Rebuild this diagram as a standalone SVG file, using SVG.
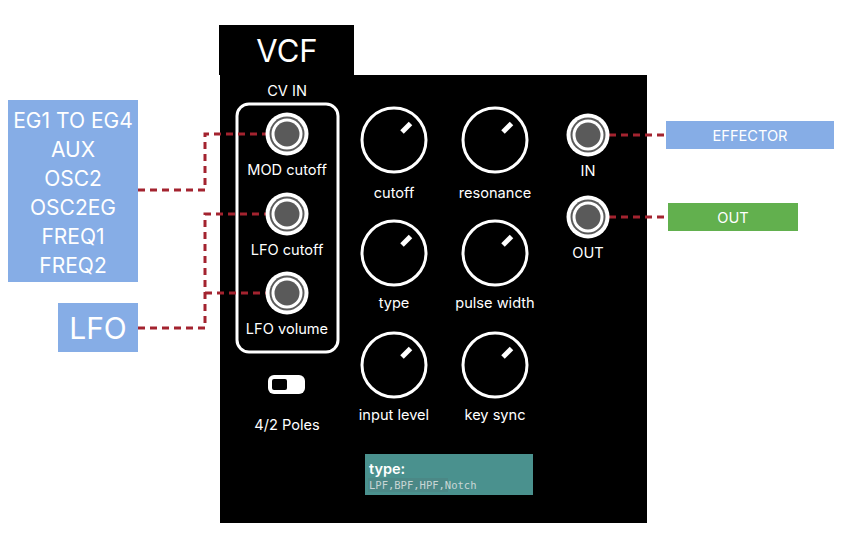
<svg xmlns="http://www.w3.org/2000/svg" width="852" height="537" viewBox="0 0 852 537">
<defs>
<style>
.t{font-family:"Inter","Liberation Sans",sans-serif;fill:#fff;text-anchor:middle}
.lbl{font-size:14.6px}
.knob{fill:none;stroke:#fff;stroke-width:3}
.ind{stroke:#fff;stroke-width:5}
.conn{fill:none;stroke:#a3232f;stroke-width:3;stroke-dasharray:7 5}
.jo{fill:#fff}.jg{fill:#5a5a5a}
</style>
<g id="jack">
<circle r="21.5" class="jo"/><circle r="17.5" class="jg"/><circle r="15.5" class="jo"/><circle r="12.5" class="jg"/>
</g>
<g id="knobshape">
<circle r="32" class="knob"/>
<line x1="8" y1="-8" x2="16.5" y2="-16.5" class="ind"/>
</g>
</defs>
<rect width="852" height="537" fill="#fff"/>
<g id="vcf-panel">
<rect x="219" y="25" width="135" height="50" fill="#000"/>
<text x="287" y="62" class="t" font-size="31">VCF</text>
<rect x="220" y="75" width="427" height="448" fill="#000"/>
<text x="287" y="96" class="t lbl">CV IN</text>
<rect x="237" y="104" width="101" height="248" rx="12" fill="none" stroke="#fff" stroke-width="3"/>
</g>
<g id="connectors">
<polyline class="conn" points="138,190 205,190 205,134 266,134"/>
<polyline class="conn" points="138,328 205,328 205,214 266,214"/>
<polyline class="conn" points="205,293 266,293"/>
<polyline class="conn" points="609,135 666,135"/>
<polyline class="conn" points="609,217 668,217"/>
</g>
<g id="src-eg">
<rect x="8" y="100" width="130" height="182" fill="#86ade6"/>
<text class="t" font-size="21"><tspan x="73" y="128">EG1 TO EG4</tspan><tspan x="73" y="157">AUX</tspan><tspan x="73" y="186">OSC2</tspan><tspan x="73" y="215">OSC2EG</tspan><tspan x="73" y="244">FREQ1</tspan><tspan x="73" y="273">FREQ2</tspan></text>
</g>
<g id="src-lfo">
<rect x="58" y="303" width="80" height="49" fill="#86ade6"/>
<text x="98" y="339" class="t" font-size="30">LFO</text>
</g>
<g id="jack-mod"><use href="#jack" x="287" y="134"/><text x="287" y="175" class="t lbl">MOD cutoff</text></g>
<g id="jack-lfocut"><use href="#jack" x="287" y="214"/><text x="287" y="255" class="t lbl">LFO cutoff</text></g>
<g id="jack-lfovol"><use href="#jack" x="287" y="293"/><text x="287" y="334" class="t lbl">LFO volume</text></g>
<g id="knob-cutoff"><use href="#knobshape" x="394" y="140"/><text x="394" y="198" class="t lbl">cutoff</text></g>
<g id="knob-resonance"><use href="#knobshape" x="495" y="140"/><text x="495" y="198" class="t lbl">resonance</text></g>
<g id="knob-type"><use href="#knobshape" x="394" y="253"/><text x="394" y="308" class="t lbl">type</text></g>
<g id="knob-pw"><use href="#knobshape" x="495" y="253"/><text x="495" y="308" class="t lbl">pulse width</text></g>
<g id="knob-input"><use href="#knobshape" x="394" y="365"/><text x="394" y="420" class="t lbl">input level</text></g>
<g id="knob-keysync"><use href="#knobshape" x="495" y="365"/><text x="495" y="420" class="t lbl">key sync</text></g>
<g id="jack-in"><use href="#jack" x="588" y="135"/><text x="588" y="176" class="t lbl">IN</text></g>
<g id="jack-out"><use href="#jack" x="588" y="217"/><text x="588" y="258" class="t lbl">OUT</text></g>
<g id="toggle">
<rect x="268" y="375" width="37" height="19" rx="6" fill="#fff"/>
<rect x="272" y="379" width="15" height="11" rx="2" fill="#000"/>
<text x="287" y="430" class="t lbl">4/2 Poles</text>
</g>
<g id="type-note">
<rect x="365" y="454" width="168" height="41" fill="#4a918e"/>
<rect x="368" y="478" width="80" height="14" fill="#4b8886"/>
<text x="369" y="474" font-family="Inter,'Liberation Sans',sans-serif" font-size="14.5" font-weight="600" fill="#fff">type:</text>
<text x="369" y="489" font-family="'DejaVu Sans Mono','Liberation Mono',monospace" font-size="10.5" fill="#c8d6d5">LPF,BPF,HPF,Notch</text>
</g>
<g id="dst-effector">
<rect x="666" y="121" width="168" height="28" fill="#86ade6"/>
<text x="750" y="141" class="t lbl">EFFECTOR</text>
</g>
<g id="dst-out">
<rect x="668" y="203" width="130" height="28" fill="#62b04e"/>
<text x="733" y="223" class="t lbl">OUT</text>
</g>
</svg>
